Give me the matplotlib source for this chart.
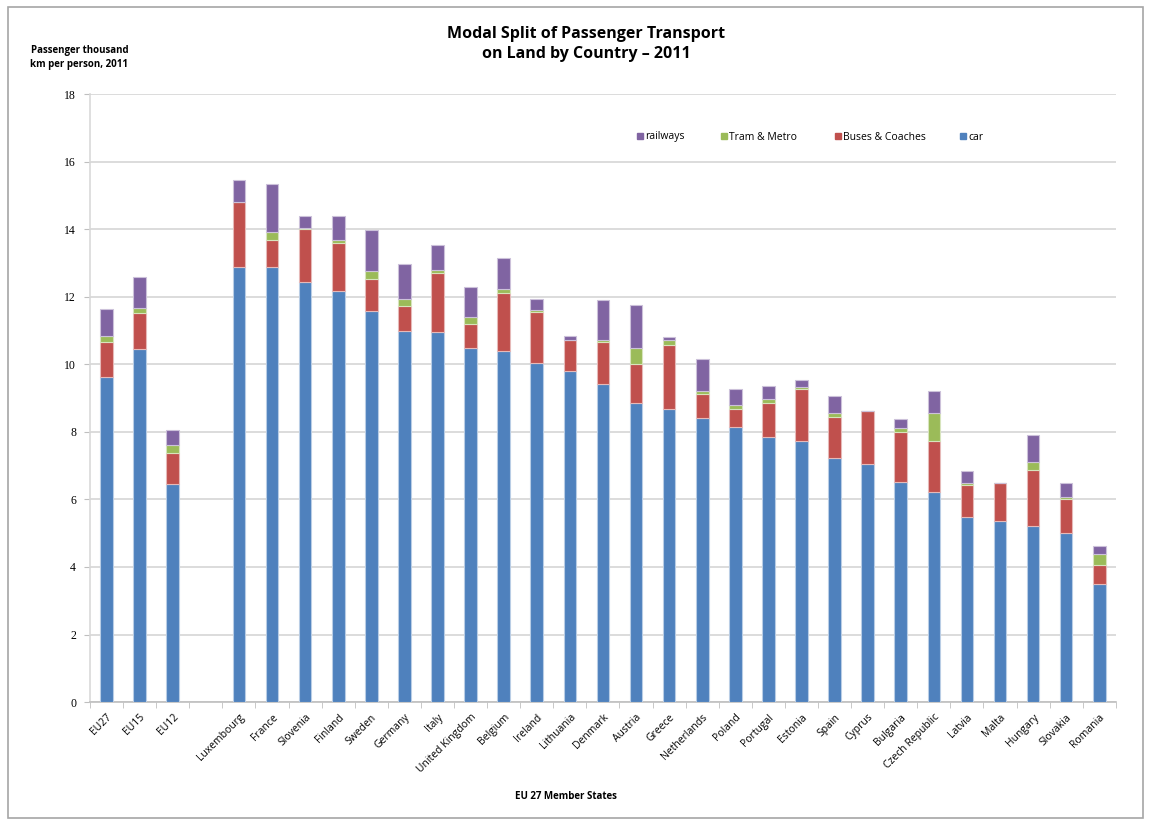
import numpy as np
import matplotlib.pyplot as plt
from matplotlib.patches import Rectangle
from matplotlib.lines import Line2D

# EU aggregates, then a gap, then member states (thousand pkm per person, 2011)
aggregates = ["EU27", "EU15", "EU12"]
agg_car = [9.63, 10.45, 6.47]
agg_bus = [1.03, 1.06, 0.90]
agg_tram = [0.18, 0.17, 0.23]
agg_rail = [0.80, 0.90, 0.44]

countries = ["Luxembourg", "France", "Slovenia", "Finland", "Sweden", "Germany",
             "Italy", "United Kingdom", "Belgium", "Ireland", "Lithuania", "Denmark",
             "Austria", "Greece", "Netherlands", "Poland", "Portugal", "Estonia",
             "Spain", "Cyprus", "Bulgaria", "Czech Republic", "Latvia", "Malta",
             "Hungary", "Slovakia", "Romania"]
car = [12.87, 12.87, 12.43, 12.18, 11.59, 10.98, 10.97, 10.48, 10.38, 10.03, 9.79, 9.43,
       8.86, 8.69, 8.40, 8.14, 7.86, 7.74, 7.23, 7.06, 6.52, 6.23, 5.47, 5.37,
       5.22, 5.00, 3.50]
bus = [1.94, 0.81, 1.57, 1.40, 0.92, 0.75, 1.73, 0.72, 1.73, 1.53, 0.92, 1.23,
       1.14, 1.87, 0.72, 0.54, 1.00, 1.53, 1.20, 1.56, 1.47, 1.51, 0.95, 1.13,
       1.65, 1.00, 0.55]
tram = [0.00, 0.25, 0.02, 0.10, 0.26, 0.20, 0.10, 0.19, 0.12, 0.06, 0.00, 0.07,
        0.48, 0.15, 0.09, 0.10, 0.11, 0.06, 0.14, 0.00, 0.12, 0.83, 0.06, 0.00,
        0.25, 0.07, 0.33]
rail = [0.66, 1.40, 0.38, 0.72, 1.20, 1.04, 0.73, 0.90, 0.92, 0.32, 0.12, 1.17,
        1.27, 0.09, 0.96, 0.48, 0.39, 0.19, 0.49, 0.00, 0.26, 0.63, 0.36, 0.00,
        0.78, 0.43, 0.23]

modes = ["car", "Buses & Coaches", "Tram & Metro", "railways"]
colors = ["#4F81BD", "#C0504D", "#9BBB59", "#8064A2"]
edges = ["#B9CDE5", "#E6B9B8", "#D7E4BD", "#CCC1DA"]

labels = aggregates + [""] + countries
x_agg = np.arange(len(aggregates))
x_cty = np.arange(len(countries)) + len(aggregates) + 1
xs = np.concatenate([x_agg, x_cty])
series = [np.array(a + c) for a, c in zip([agg_car, agg_bus, agg_tram, agg_rail],
                                          [car, bus, tram, rail])]

fig = plt.figure(figsize=(11.5, 8.25), dpi=100)
ax = fig.add_axes([0.0783, 0.149, 0.892, 0.737])

bottom = np.zeros(len(xs))
for vals, name, col, ec in zip(series, modes, colors, edges):
    ax.bar(xs, vals, bottom=bottom, width=0.38, color=col, edgecolor=ec,
           linewidth=0.8, label=name, zorder=3)
    bottom += vals

ax.set_ylim(0, 18)
ax.set_xlim(-0.5, len(labels) - 0.5)
ax.set_yticks(np.arange(0, 19, 2))
ax.yaxis.grid(True, color="#D9D9D9", linewidth=1.3, zorder=0)
for t in ax.get_yticklabels():
    t.set_family("Liberation Serif")
    t.set_fontsize(8.5)
ax.tick_params(axis="y", length=4, color="#BFBFBF", pad=6)

ax.set_xticks(np.arange(len(labels)))
ax.set_xticklabels(labels, rotation=45, ha="right", rotation_mode="anchor",
                   fontsize=7.5, family="Open Sans")
ax.set_xticks(np.arange(len(labels) + 1) - 0.5, minor=True)
ax.tick_params(axis="x", which="major", length=0, pad=7)
ax.tick_params(axis="x", which="minor", length=4, color="#BFBFBF")

for s in ["top", "right"]:
    ax.spines[s].set_visible(False)
ax.spines["left"].set_color("#D9D9D9")
ax.spines["bottom"].set_color("#BFBFBF")
ax.spines["left"].set_linewidth(1.2)
ax.spines["bottom"].set_linewidth(1.2)

# legend entries laid out one by one, railways first
legend_x = [636, 720, 834, 959]
for name, col, lx in zip(modes[::-1], colors[::-1], legend_x):
    h = Line2D([], [], marker="s", linestyle="", markersize=5,
               markerfacecolor=col, markeredgecolor=col)
    fig.legend([h], [name], loc="center left", frameon=False,
               bbox_to_anchor=(lx / 1150, 1 - 137 / 825), borderpad=0,
               borderaxespad=0, handletextpad=0.1, handlelength=0.8,
               prop={"family": "Open Sans", "size": 7.5})

fig.text(0.51, 0.947, "Modal Split of Passenger Transport\non Land by Country \u2013 2011",
         ha="center", va="center", fontsize=11.5, fontweight="bold",
         family="Open Sans", linespacing=1.3)
fig.text(0.069, 0.93, "Passenger thousand\nkm per person, 2011", ha="center",
         va="center", fontsize=7, fontweight="bold", family="Open Sans",
         linespacing=1.4)
fig.text(0.492, 0.035, "EU 27 Member States", ha="center", va="center",
         fontsize=7, fontweight="bold", family="Open Sans")

fig.patches.append(Rectangle((8 / 1150, 7 / 825), 1135 / 1150, 811 / 825,
                             transform=fig.transFigure, fill=False,
                             edgecolor="#A6A6A6", linewidth=1.2))

fig.savefig("out.png", dpi=100)
